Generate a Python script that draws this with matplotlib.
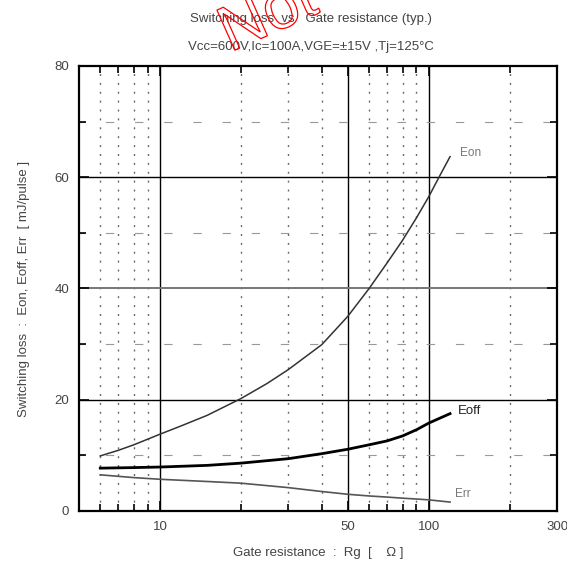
import matplotlib.pyplot as plt
import matplotlib.patheffects as pe

plt.rcParams['font.family'] = ['Liberation Sans', 'DejaVu Sans']
plt.rcParams['lines.scale_dashes'] = False

# Gate resistance [ohm] and switching losses [mJ/pulse]
rg_on = [6, 7, 8, 9, 10, 12, 15, 20, 25, 30, 40, 50, 60, 70, 80, 90, 100, 110, 120]
eon = [9.9, 10.9, 11.9, 12.9, 13.8, 15.3, 17.2, 20.2, 22.9, 25.4, 29.9, 35.0,
       40.0, 44.6, 48.7, 52.7, 56.5, 60.3, 63.7]
rg = [6, 8, 10, 15, 20, 30, 40, 50, 60, 70, 80, 90, 100, 120]
eoff = [7.7, 7.8, 7.9, 8.2, 8.6, 9.4, 10.3, 11.1, 11.9, 12.6, 13.5, 14.6, 15.8, 17.5]
err = [6.5, 6.0, 5.7, 5.3, 5.0, 4.2, 3.5, 3.0, 2.7, 2.5, 2.3, 2.15, 2.0, 1.6]

x_major_grid = [10, 50, 100]
x_minor_grid = [6, 7, 8, 9, 20, 30, 40, 60, 70, 80, 90, 200]
y_major = [0, 20, 40, 60, 80]
y_minor = [10, 30, 50, 70]
x_ticklabels = [10, 50, 100, 300]

fig = plt.figure(figsize=(5.67, 5.63), dpi=100)
ax = fig.add_axes([0.1393, 0.0924, 0.8431, 0.7904])

ax.set_xscale('log')
ax.set_xlim(5, 300)
ax.set_ylim(0, 80)

# grid
for x in x_major_grid:
    ax.axvline(x, color='black', lw=1.0, zorder=1)
for x in x_minor_grid:
    ax.axvline(x, color='#666666', lw=1.0, ls=(0, (1.4, 5.0)), zorder=1)
for y in [20, 60]:
    ax.axhline(y, color='black', lw=1.0, zorder=1)
ax.axhline(40, color='#777777', lw=1.4, zorder=1)
for y in y_minor:
    ax.axhline(y, color='#999999', lw=0.8, ls=(2, (6, 15)), zorder=1)

ax.plot(rg_on, eon, color='#333333', lw=1.1, zorder=3)
ax.plot(rg, eoff, color='black', lw=2.0, zorder=3)
ax.plot(rg, err, color='#555555', lw=1.2, zorder=3)

ax.text(131, 63.8, 'Eon', fontsize=8.5, color='#777777')
ax.text(128, 17.4, 'Eoff', fontsize=9.5, color='#222222')
ax.text(125, 2.6, 'Err', fontsize=8.5, color='#777777')

# ticks
ax.set_xticks(x_ticklabels)
ax.set_xticklabels([str(v) for v in x_ticklabels])
ax.set_xticks(x_minor_grid, minor=True)
ax.xaxis.set_minor_formatter(plt.NullFormatter())
ax.set_yticks(y_major)
ax.set_yticks(y_minor, minor=True)
ax.tick_params(which='both', direction='in', top=True, right=True,
               colors='black', labelcolor='#444444', labelsize=9.5, width=1.2)
ax.tick_params(which='major', length=7, pad=7)
ax.tick_params(which='minor', length=5)
for s in ax.spines.values():
    s.set_linewidth(1.6)

ax.set_xlabel('Gate resistance  :  Rg  [    \u03a9 ]', fontsize=9.5,
              color='#444444', labelpad=10)
ax.set_ylabel('Switching loss  :  Eon, Eoff, Err  [ mJ/pulse ]', fontsize=9.5,
              color='#444444', labelpad=18)

fig.text(0.548, 0.966, 'Switching loss  vs   Gate resistance (typ.)',
         ha='center', va='center', fontsize=9.5, color='#444444')
fig.text(0.548, 0.916, 'Vcc=600V,Ic=100A,VGE=\u00b115V ,Tj=125\u00b0C',
         ha='center', va='center', fontsize=9.5, color='#444444')

# red outlined (hollow) watermark running off the top edge, as in the source
wm = fig.text(0.372, 0.909, 'Not', fontsize=46, rotation=24, color='red',
              ha='left', va='baseline', zorder=10)
wm.set_path_effects([pe.PathPatchEffect(edgecolor='red', facecolor='none',
                                        linewidth=0.9)])

fig.savefig('out.png', dpi=100)
